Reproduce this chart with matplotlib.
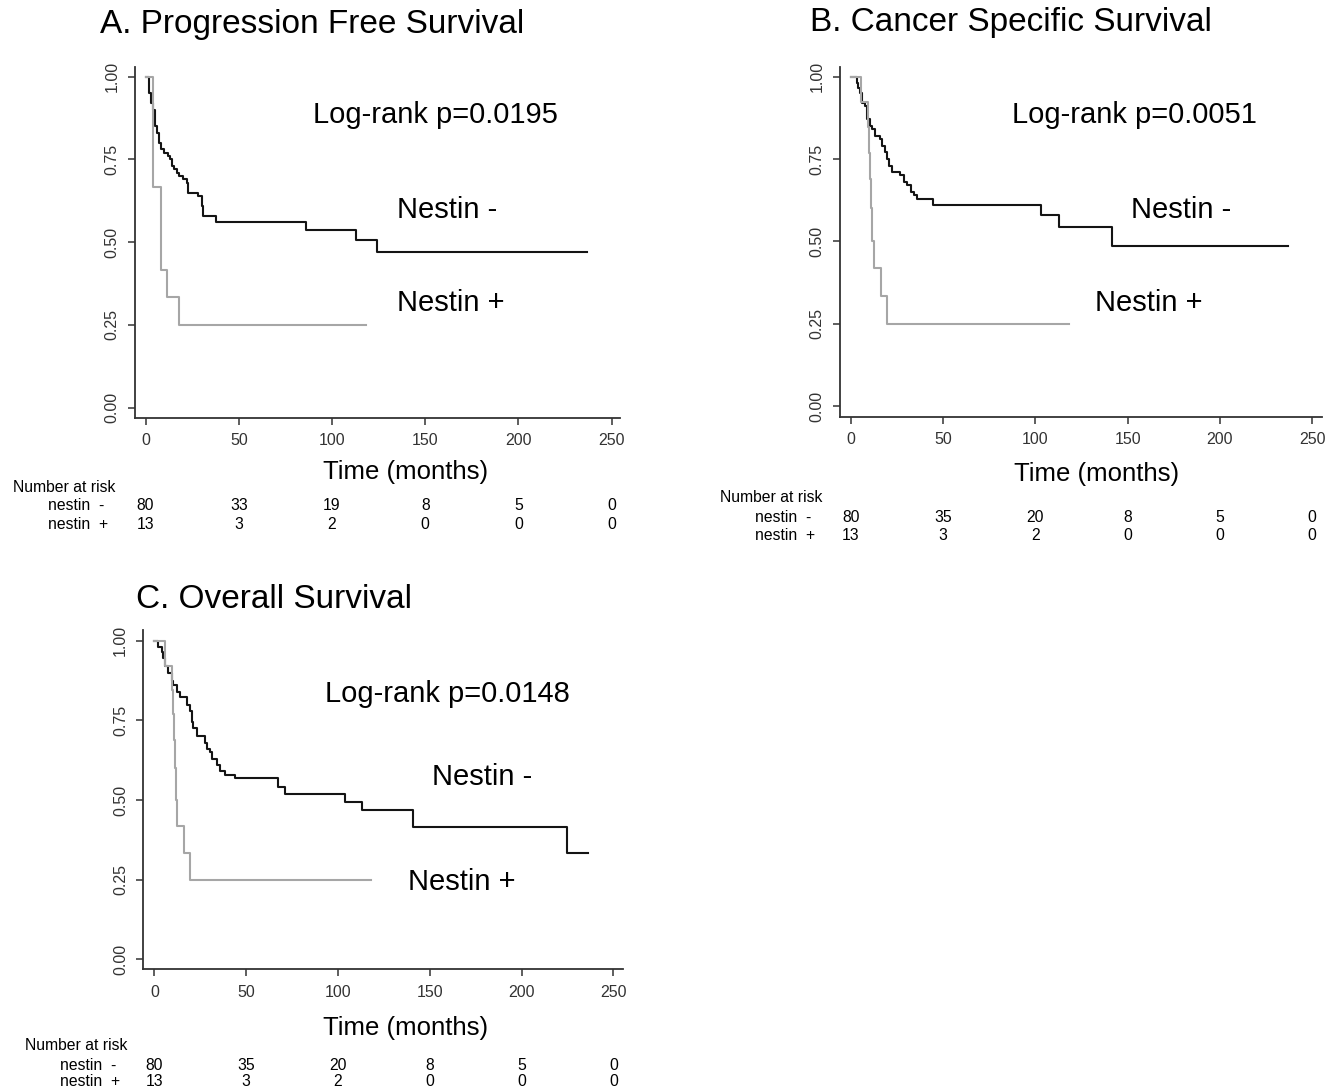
import matplotlib
matplotlib.use('Agg')
import matplotlib.pyplot as plt
import matplotlib.transforms as mtransforms

plt.rcParams['font.family'] = ['Liberation Sans', 'DejaVu Sans']
narrow = ['Liberation Sans Narrow', 'Liberation Sans', 'DejaVu Sans']

W, H = 1333, 1092

# ---- data ----
titles = ['A. Progression Free Survival', 'B. Cancer Specific Survival', 'C. Overall Survival']
pvalues = ['Log-rank p=0.0195', 'Log-rank p=0.0051', 'Log-rank p=0.0148']

a_neg_t = [0, 2, 3, 4, 5, 6, 7, 8, 10, 12, 13, 14, 15, 17, 18, 20, 22, 23, 28, 30, 31, 38, 86, 113, 124, 237]
a_neg_s = [1.0, 0.95, 0.92, 0.90, 0.85, 0.83, 0.80, 0.78, 0.77, 0.76, 0.75, 0.73, 0.72, 0.71, 0.70, 0.69,
           0.68, 0.65, 0.64, 0.61, 0.58, 0.56, 0.537, 0.506, 0.471, 0.471]
a_pos_t = [0, 4, 8.5, 11.5, 18, 118]
a_pos_s = [1.0, 0.667, 0.417, 0.333, 0.25, 0.25]

b_neg_t = [0, 3.3, 4.2, 5.1, 6, 7.8, 8.7, 10.5, 11.5, 13.3, 16, 16.9, 18.7, 19.6, 20.5, 22.4, 26.9, 28.7,
           30.5, 32.4, 34.2, 36, 44.5, 103, 113, 141.5, 237]
b_neg_s = [1.0, 0.98, 0.965, 0.95, 0.92, 0.91, 0.87, 0.85, 0.84, 0.82, 0.81, 0.79, 0.77, 0.75, 0.73, 0.71,
           0.70, 0.68, 0.67, 0.65, 0.64, 0.63, 0.61, 0.58, 0.545, 0.485, 0.485]
b_pos_t = [0, 5.7, 9.4, 10, 10.6, 11.2, 11.8, 12.5, 16.3, 19.8, 118]
b_pos_s = [1.0, 0.923, 0.846, 0.769, 0.69, 0.60, 0.50, 0.42, 0.335, 0.25, 0.25]

c_neg_t = [0, 2.2, 4, 4.9, 5.8, 7.6, 9.4, 10.3, 12.2, 14, 17.6, 19.4, 20.3, 21.2, 23.1, 27.6, 28.5, 30.3,
           31.2, 34, 35.8, 38.5, 43.9, 67.5, 71.2, 103.8, 112.9, 141, 224.6, 236.4]
c_neg_s = [1.0, 0.98, 0.965, 0.945, 0.92, 0.90, 0.875, 0.86, 0.84, 0.825, 0.80, 0.78, 0.745, 0.725, 0.70,
           0.68, 0.66, 0.65, 0.63, 0.61, 0.59, 0.58, 0.57, 0.54, 0.52, 0.495, 0.47, 0.415, 0.333, 0.333]
c_pos_t = [0, 5.8, 9.4, 10, 10.6, 11.2, 11.8, 12.2, 16.2, 19.4, 117.8]
c_pos_s = [1.0, 0.92, 0.846, 0.769, 0.69, 0.60, 0.50, 0.42, 0.335, 0.25, 0.25]

risk_times = [0, 50, 100, 150, 200, 250]
a_risk_neg = [80, 33, 19, 8, 5, 0]
a_risk_pos = [13, 3, 2, 0, 0, 0]
b_risk_neg = [80, 35, 20, 8, 5, 0]
b_risk_pos = [13, 3, 2, 0, 0, 0]
c_risk_neg = [80, 35, 20, 8, 5, 0]
c_risk_pos = [13, 3, 2, 0, 0, 0]

yticks = [0, 0.25, 0.5, 0.75, 1.0]

fig = plt.figure(figsize=(W / 100, H / 100), dpi=100)


def fx(x):
    return x / W


def fy(y):
    return 1 - y / H


def panel(box, xlim, ylim, neg, pos, title, pval, risk_neg, risk_pos, spots):
    l, t, r, b = box
    ax = fig.add_axes([fx(l), fy(b), (r - l) / W, (b - t) / H])
    ax.step(neg[0], neg[1], where='post', color='#141414', lw=1.5)
    ax.step(pos[0], pos[1], where='post', color='#a6a6a6', lw=1.5)
    ax.set_xlim(*xlim)
    ax.set_ylim(*ylim)
    ax.set_xticks(risk_times)
    ax.set_yticks(yticks)
    ax.set_yticklabels(['%.2f' % v for v in yticks], rotation=90, va='center')
    for s in ['top', 'right']:
        ax.spines[s].set_visible(False)
    for s in ['left', 'bottom']:
        ax.spines[s].set_color('#333333')
        ax.spines[s].set_linewidth(1.3)
    ax.tick_params(direction='out', length=5, width=1.1, color='#333333', labelcolor='#333333',
                   labelsize=11.5, pad=6)
    for lab in ax.get_xticklabels() + ax.get_yticklabels():
        lab.set_family(narrow)

    fig.text(fx(spots['title'][0]), fy(spots['title'][1]), title, fontsize=24, va='center', ha='left')
    fig.text(fx(spots['p'][0]), fy(spots['p'][1]), pval, fontsize=21, va='center', ha='left')
    fig.text(fx(spots['neg'][0]), fy(spots['neg'][1]), 'Nestin -', fontsize=21, va='center', ha='left')
    fig.text(fx(spots['pos'][0]), fy(spots['pos'][1]), 'Nestin +', fontsize=21, va='center', ha='left')
    fig.text(fx(spots['xlab'][0]), fy(spots['xlab'][1]), 'Time (months)', fontsize=18.5,
             va='center', ha='center')

    # number at risk table
    fig.text(fx(spots['nar'][0]), fy(spots['nar'][1]), 'Number at risk', fontsize=11.3,
             va='center', ha='left', family=narrow)
    rx, ry1, ry2 = spots['rows']
    fig.text(fx(rx), fy(ry1), 'nestin  -', fontsize=11.3, va='center', ha='left', family=narrow)
    fig.text(fx(rx), fy(ry2), 'nestin  +', fontsize=11.3, va='center', ha='left', family=narrow)
    trans = mtransforms.blended_transform_factory(ax.transData, fig.transFigure)
    for tm, n1, n2 in zip(risk_times, risk_neg, risk_pos):
        ax.text(tm, fy(ry1), str(n1), transform=trans, fontsize=11.3, ha='center', va='center',
                family=narrow, clip_on=False)
        ax.text(tm, fy(ry2), str(n2), transform=trans, fontsize=11.3, ha='center', va='center',
                family=narrow, clip_on=False)
    return ax


panel((135, 66.7, 620, 418), (-5.7, 254.5), (-0.031, 1.03),
      (a_neg_t, a_neg_s), (a_pos_t, a_pos_s), titles[0], pvalues[0], a_risk_neg, a_risk_pos,
      {'title': (100, 25), 'p': (313, 115), 'neg': (397, 210), 'pos': (397, 303),
       'xlab': (406, 472), 'nar': (13, 487), 'rows': (48, 506, 524)})

panel((840, 66.7, 1321.7, 416.7), (-5.8, 255.1), (-0.032, 1.03),
      (b_neg_t, b_neg_s), (b_pos_t, b_pos_s), titles[1], pvalues[1], b_risk_neg, b_risk_pos,
      {'title': (810, 22), 'p': (1012, 115), 'neg': (1131, 210), 'pos': (1095, 303),
       'xlab': (1097, 474), 'nar': (720, 498), 'rows': (755, 517, 536)})

panel((143.3, 630, 623.3, 969.3), (-6.0, 255.4), (-0.031, 1.034),
      (c_neg_t, c_neg_s), (c_pos_t, c_pos_s), titles[2], pvalues[2], c_risk_neg, c_risk_pos,
      {'title': (136, 599), 'p': (325, 694), 'neg': (432, 777), 'pos': (408, 882),
       'xlab': (406, 1028), 'nar': (25, 1046), 'rows': (60, 1065, 1082)})

fig.savefig('out.png', dpi=100)
